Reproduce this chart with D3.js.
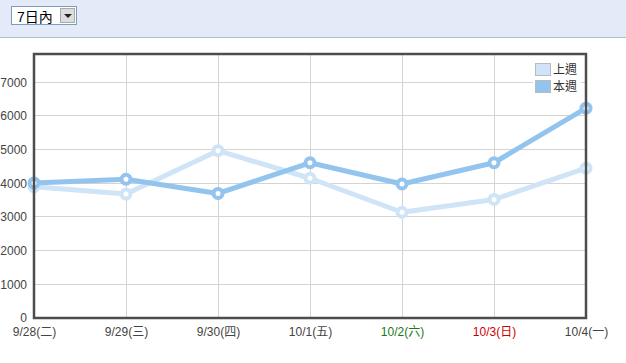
<!DOCTYPE html>
<html><head><meta charset="utf-8">
<script src="https://cdn.jsdelivr.net/npm/d3@7"></script>
<style>
body{margin:0;background:#fff;font-family:Arial,"Liberation Sans","Noto Sans CJK TC",sans-serif;}
#bar{position:absolute;left:0;top:0;width:626px;height:37px;background:#e3ebf8;border-bottom:1px solid #a8bdd3;}
#sel{position:absolute;left:11px;top:6px;width:64px;height:17px;border:1px solid #7f9db9;background:#fff;font-size:14px;}
#sel span{position:absolute;left:5px;top:-1px;color:#000;}
#sel .btn{position:absolute;right:1px;top:1px;width:15px;height:15px;background:#ddd;border:1px solid #aaa;box-sizing:border-box;}
#sel .btn:after{content:"";position:absolute;left:3px;top:5px;border-left:4px solid transparent;border-right:4px solid transparent;border-top:4px solid #222;}
svg{position:absolute;left:0;top:0;}
</style></head><body>
<div id="bar"><div id="sel"><span>7日內</span><div class="btn"></div></div></div>
<svg id="c" width="626" height="363"></svg>
<script>
const categories=["9/28(二)","9/29(三)","9/30(四)","10/1(五)","10/2(六)","10/3(日)","10/4(一)"];
const labelColors=["#444","#444","#444","#444","#1a7a1a","#cc0000","#444"];
const lastWeek=[3900,3680,4970,4150,3140,3520,4450];
const thisWeek=[4010,4120,3700,4610,3980,4610,6230];
const yTicks=[0,1000,2000,3000,4000,5000,6000,7000];
const seriesNames=["上週","本週"];
const seriesColors=["#d0e4f7","#93c4ee"];

const svg=d3.select("#c");
const L=34,R=586,T=54,B=318;
const x=d3.scalePoint().domain(categories).range([L,R]);
const y=d3.scaleLinear().domain([0,7840]).range([B,T]);

const g=svg.append("g");
g.selectAll(".hg").data(yTicks.slice(1)).join("line")
 .attr("x1",L).attr("x2",R).attr("y1",d=>y(d)).attr("y2",d=>y(d))
 .attr("stroke","#d4d4d4").attr("stroke-width",1).attr("shape-rendering","crispEdges");
g.selectAll(".vg").data(categories.slice(1,-1)).join("line")
 .attr("x1",d=>x(d)).attr("x2",d=>x(d)).attr("y1",T).attr("y2",B)
 .attr("stroke","#d4d4d4").attr("stroke-width",1).attr("shape-rendering","crispEdges");

const ya=svg.append("g").attr("transform",`translate(${L},0)`)
 .call(d3.axisLeft(y).tickValues(yTicks).tickSize(0).tickPadding(7).tickFormat(d3.format("d")));
ya.select(".domain").remove();
ya.selectAll("text").attr("font-size",12).attr("fill","#444").attr("font-family","Arial,'Liberation Sans',sans-serif");

const xa=svg.append("g").attr("transform",`translate(0,${B})`)
 .call(d3.axisBottom(x).tickSize(0).tickPadding(9));
xa.select(".domain").remove();
xa.selectAll("text").attr("font-size",12).attr("fill",(d,i)=>labelColors[i])
 .attr("font-family","Arial,'Liberation Sans','Noto Sans CJK TC',sans-serif");

const line=d3.line().x((d,i)=>x(categories[i])).y(d=>y(d));
[lastWeek,thisWeek].forEach((s,k)=>{
  svg.append("path").datum(s).attr("d",line).attr("fill","none")
    .attr("stroke",seriesColors[k]).attr("stroke-width",5).attr("stroke-linejoin","round");
  svg.selectAll(null).data(s).join("circle")
    .attr("cx",(d,i)=>x(categories[i])).attr("cy",d=>y(d)).attr("r",4.5)
    .attr("fill","#fff").attr("stroke",seriesColors[k]).attr("stroke-width",4);
});

svg.append("rect").attr("x",L).attr("y",T).attr("width",R-L).attr("height",B-T)
 .attr("fill","none").attr("stroke","#4d4d4d").attr("stroke-width",2.5);

const lg=svg.append("g").attr("transform","translate(533,61)");
lg.append("rect").attr("x",0).attr("y",0).attr("width",48).attr("height",33).attr("fill","#fff");
seriesNames.forEach((n,i)=>{
  lg.append("rect").attr("x",2.5).attr("y",2.5+i*17).attr("width",15).attr("height",12)
    .attr("fill",seriesColors[i]).attr("stroke","#bbb").attr("stroke-width",1);
  lg.append("text").attr("x",20).attr("y",13+i*17).text(n).attr("font-size",12).attr("fill","#333")
    .attr("font-family","'Noto Sans CJK TC',sans-serif");
});
</script></body></html>
